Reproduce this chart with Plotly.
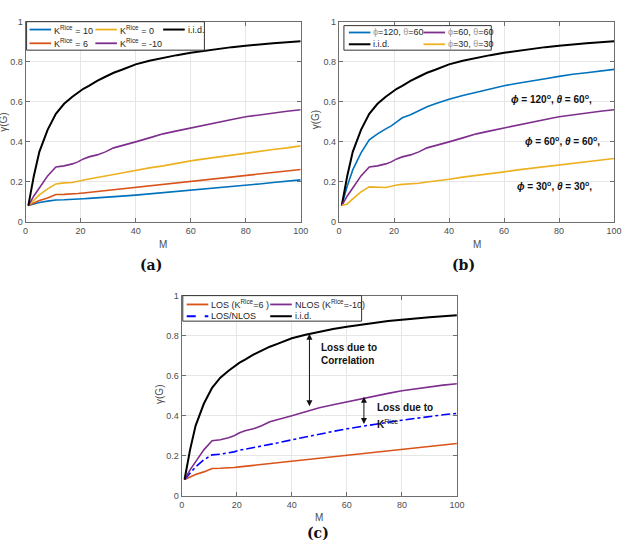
import plotly.graph_objects as go

W, H = 627, 550

# ---------------- data ----------------
M = [1, 3, 5, 8, 11, 14, 17, 19, 21, 23, 26, 29, 32, 35, 40, 45, 50, 55, 60, 65, 70, 75, 80, 85, 90, 95, 100]

iid = [0.082, 0.23, 0.35, 0.46, 0.54, 0.59, 0.625, 0.645, 0.665, 0.68, 0.705, 0.725, 0.745, 0.76,
       0.787, 0.805, 0.82, 0.833, 0.845, 0.855, 0.865, 0.873, 0.88, 0.887, 0.892, 0.897, 0.902]
k_m10 = [0.082, 0.13, 0.17, 0.23, 0.275, 0.28, 0.29, 0.30, 0.315, 0.325, 0.335, 0.35, 0.37, 0.38,
         0.40, 0.42, 0.44, 0.455, 0.47, 0.485, 0.50, 0.512, 0.525, 0.535, 0.545, 0.553, 0.56]
k_0 = [0.082, 0.11, 0.135, 0.165, 0.19, 0.195, 0.197, 0.203, 0.21, 0.215, 0.222, 0.228, 0.237, 0.245,
       0.258, 0.27, 0.28, 0.293, 0.305, 0.315, 0.325, 0.335, 0.345, 0.355, 0.362, 0.37, 0.38]
k_6 = [0.082, 0.095, 0.107, 0.12, 0.137, 0.138, 0.139, 0.142, 0.145, 0.148, 0.151, 0.155, 0.16, 0.163,
       0.17, 0.178, 0.185, 0.193, 0.2, 0.208, 0.215, 0.223, 0.232, 0.24, 0.247, 0.255, 0.262]
k_10 = [0.082, 0.09, 0.097, 0.104, 0.11, 0.111, 0.112, 0.114, 0.116, 0.118, 0.12, 0.123, 0.126, 0.129,
        0.134, 0.14, 0.145, 0.151, 0.157, 0.163, 0.17, 0.176, 0.183, 0.19, 0.197, 0.203, 0.21]
phi120 = [0.082, 0.18, 0.26, 0.345, 0.41, 0.44, 0.465, 0.48, 0.50, 0.52, 0.535, 0.555, 0.575, 0.59,
          0.613, 0.632, 0.648, 0.665, 0.68, 0.693, 0.703, 0.715, 0.727, 0.738, 0.745, 0.755, 0.762]
phi30 = [0.082, 0.09, 0.115, 0.15, 0.175, 0.174, 0.172, 0.178, 0.185, 0.188, 0.189, 0.193, 0.2, 0.204,
         0.213, 0.224, 0.232, 0.242, 0.25, 0.26, 0.268, 0.278, 0.285, 0.295, 0.302, 0.31, 0.317]
los_nlos = [0.082, 0.115, 0.145, 0.18, 0.205, 0.208, 0.213, 0.22, 0.228, 0.233, 0.24, 0.248, 0.257, 0.265,
            0.28, 0.295, 0.31, 0.322, 0.335, 0.347, 0.358, 0.368, 0.378, 0.388, 0.397, 0.405, 0.412]

x_ticks = [0, 20, 40, 60, 80, 100]
y_ticks = [0, 0.2, 0.4, 0.6, 0.8, 1]
y_ticklabels = ["0", "0.2", "0.4", "0.6", "0.8", "1"]

BLUE, ORANGE, YELLOW, PURPLE, BLACK = "#0072BD", "#D95319", "#EDB120", "#7E2F8E", "#000000"
PUREBLUE = "#0000FF"

def px(x):
    return x / W

def py(y):
    return 1 - y / H

fig = go.Figure()

def add_line(xa, ya, y, color, dash="solid", width=1.6):
    fig.add_trace(go.Scatter(x=M, y=y, mode="lines", xaxis=xa, yaxis=ya, showlegend=False,
                             line=dict(color=color, width=width, dash=dash), hoverinfo="skip"))

# (a)
add_line("x", "y", k_10, BLUE)
add_line("x", "y", k_6, ORANGE)
add_line("x", "y", k_0, YELLOW)
add_line("x", "y", k_m10, PURPLE)
add_line("x", "y", iid, BLACK, width=2)
# (b)
add_line("x2", "y2", phi120, BLUE)
add_line("x2", "y2", iid, BLACK, width=2)
add_line("x2", "y2", k_m10, PURPLE)
add_line("x2", "y2", phi30, YELLOW)
# (c)
add_line("x3", "y3", k_6, ORANGE)
add_line("x3", "y3", los_nlos, PUREBLUE, dash="dashdot")
add_line("x3", "y3", k_m10, PURPLE)
add_line("x3", "y3", iid, BLACK, width=2)

FONT = "Liberation Sans, Arial, sans-serif"
TICKC = "#4d4d4d"

def ax_common():
    return dict(showline=True, mirror="ticks", linecolor="#6e6e6e", linewidth=1.3,
                ticks="inside", ticklen=4, tickcolor="#6e6e6e", tickwidth=1,
                showgrid=True, gridcolor="#e6e6e6", gridwidth=1, zeroline=False,
                tickfont=dict(family=FONT, size=9, color=TICKC))

domains = {
    "a": ([px(23), px(303)], [py(221), py(17)]),
    "b": ([px(342), px(622)], [py(221), py(17)]),
    "c": ([px(182), px(462)], [py(500), py(296)]),
}

layout = dict(width=W, height=H, margin=dict(l=0, r=0, t=0, b=0),
              paper_bgcolor="white", plot_bgcolor="white", showlegend=False)
for key, (xn, yn, xa_name, ya_name) in zip("abc", [("xaxis", "yaxis", "x", "y"),
                                                   ("xaxis2", "yaxis2", "x2", "y2"),
                                                   ("xaxis3", "yaxis3", "x3", "y3")]):
    xd, yd = domains[key]
    xa = ax_common(); xa.update(domain=xd, range=[0, 100], tickvals=x_ticks, anchor=ya_name)
    ya = ax_common(); ya.update(domain=yd, range=[0, 1], tickvals=y_ticks, ticktext=y_ticklabels, anchor=xa_name)
    layout[xn] = xa
    layout[yn] = ya
fig.update_layout(**layout)

shapes = []
annotations = []

# manual legends: boxes + samples + text
def legend_box(x0, y0, x1, y1):
    shapes.append(dict(type="rect", xref="paper", yref="paper", x0=px(x0), x1=px(x1), y0=py(y1), y1=py(y0),
                       line=dict(color="#333333", width=1), fillcolor="white", layer="above"))

def legend_item(x, y, color, text, dash="solid", width=1.8, L=22):
    shapes.append(dict(type="line", xref="paper", yref="paper", x0=px(x), x1=px(x + L), y0=py(y), y1=py(y),
                       line=dict(color=color, width=width, dash=dash), layer="above"))
    annotations.append(dict(xref="paper", yref="paper", x=px(x + L + 1), y=py(y), text=text, showarrow=False,
                            xanchor="left", yanchor="middle", font=dict(family=FONT, size=9, color="#262626")))

KR = "K<sup>Rice</sup>"
legend_box(24, 17, 205, 46)
legend_item(27, 25, BLUE, KR + " = 10")
legend_item(27, 39, ORANGE, KR + " = 6")
legend_item(94, 25, YELLOW, KR + " = 0")
legend_item(94, 39, PURPLE, KR + " = -10")
legend_item(163, 25, BLACK, "i.i.d.", width=2)

G = "<span style='color:#999999'>%s</span>"
legend_box(347, 21, 497, 46)
legend_item(352, 28, BLUE, (G % "ϕ") + "=120, " + (G % "θ") + "=60")
legend_item(352, 40, BLACK, "i.i.d.", width=2)
legend_item(428, 28, PURPLE, (G % "ϕ") + "=60, " + (G % "θ") + "=60")
legend_item(428, 40, YELLOW, (G % "ϕ") + "=30, " + (G % "θ") + "=30")

legend_box(183, 296, 365, 322)
legend_item(187, 305, ORANGE, "LOS (" + KR + "=6 )")
legend_item(187, 317, PUREBLUE, "LOS/NLOS", dash="dash")
legend_item(272, 305, PURPLE, "NLOS (" + KR + "=-10)")
legend_item(272, 317, BLACK, "i.i.d.", width=2)

# axis titles
def label(x, y, text, angle=0, size=10):
    annotations.append(dict(xref="paper", yref="paper", x=px(x), y=py(y), text=text, showarrow=False,
                            textangle=angle, xanchor="center", yanchor="middle",
                            font=dict(family=FONT, size=size, color=TICKC)))

label(163, 244, "M")
label(482, 244, "M")
label(322, 522, "M")
label(1, 119, "γ(G)", angle=-90)
label(318, 117, "γ(G)", angle=-90)
label(160, 397, "γ(G)", angle=-90)

# captions
for x, y, t in [(151, 265, "(a)"), (469, 265, "(b)"), (321, 538, "(c)")]:
    annotations.append(dict(xref="paper", yref="paper", x=px(x), y=py(y), text="<b>%s</b>" % t, showarrow=False,
                            xanchor="center", yanchor="middle",
                            font=dict(family="DejaVu Serif, serif", size=14, color="#111111")))

# (b) annotations
BF = dict(family=FONT, size=10, color="#111111")
for x, y, a, b in [(61.8, 0.612, "120", "60"), (66.8, 0.405, "60", "60"), (63.9, 0.18, "30", "30")]:
    annotations.append(dict(xref="x2", yref="y2", x=x, y=y, showarrow=False, xanchor="left", yanchor="middle",
                            text="<b><i>ϕ</i> = %s<sup>o</sup>, <i>θ</i> = %s<sup>o</sup>,</b>" % (a, b), font=BF))

# (c) annotations
annotations.append(dict(xref="x3", yref="y3", x=50, y=0.71, showarrow=False, xanchor="left", yanchor="middle",
                        align="left", text="<b>Loss due to<br>Correlation</b>", font=BF))
annotations.append(dict(xref="x3", yref="y3", x=70.4, y=0.44, showarrow=False, xanchor="left", yanchor="middle",
                        text="<b>Loss due to</b>", font=BF))
annotations.append(dict(xref="x3", yref="y3", x=70.4, y=0.36, showarrow=False, xanchor="left", yanchor="middle",
                        text="<b>K</b><sup>Rice</sup>", font=BF))
for x, y0, y1 in [(46.4, 0.44, 0.81), (66.2, 0.352, 0.495)]:
    annotations.append(dict(xref="x3", yref="y3", axref="x3", ayref="y3", x=x, y=y1, ax=x, ay=y0, text="",
                            showarrow=True, arrowhead=2, arrowside="end+start", arrowsize=1.2,
                            arrowwidth=1, arrowcolor="#111111", standoff=0, startstandoff=0))

fig.update_layout(shapes=shapes, annotations=annotations)
fig.write_html("out.html")
